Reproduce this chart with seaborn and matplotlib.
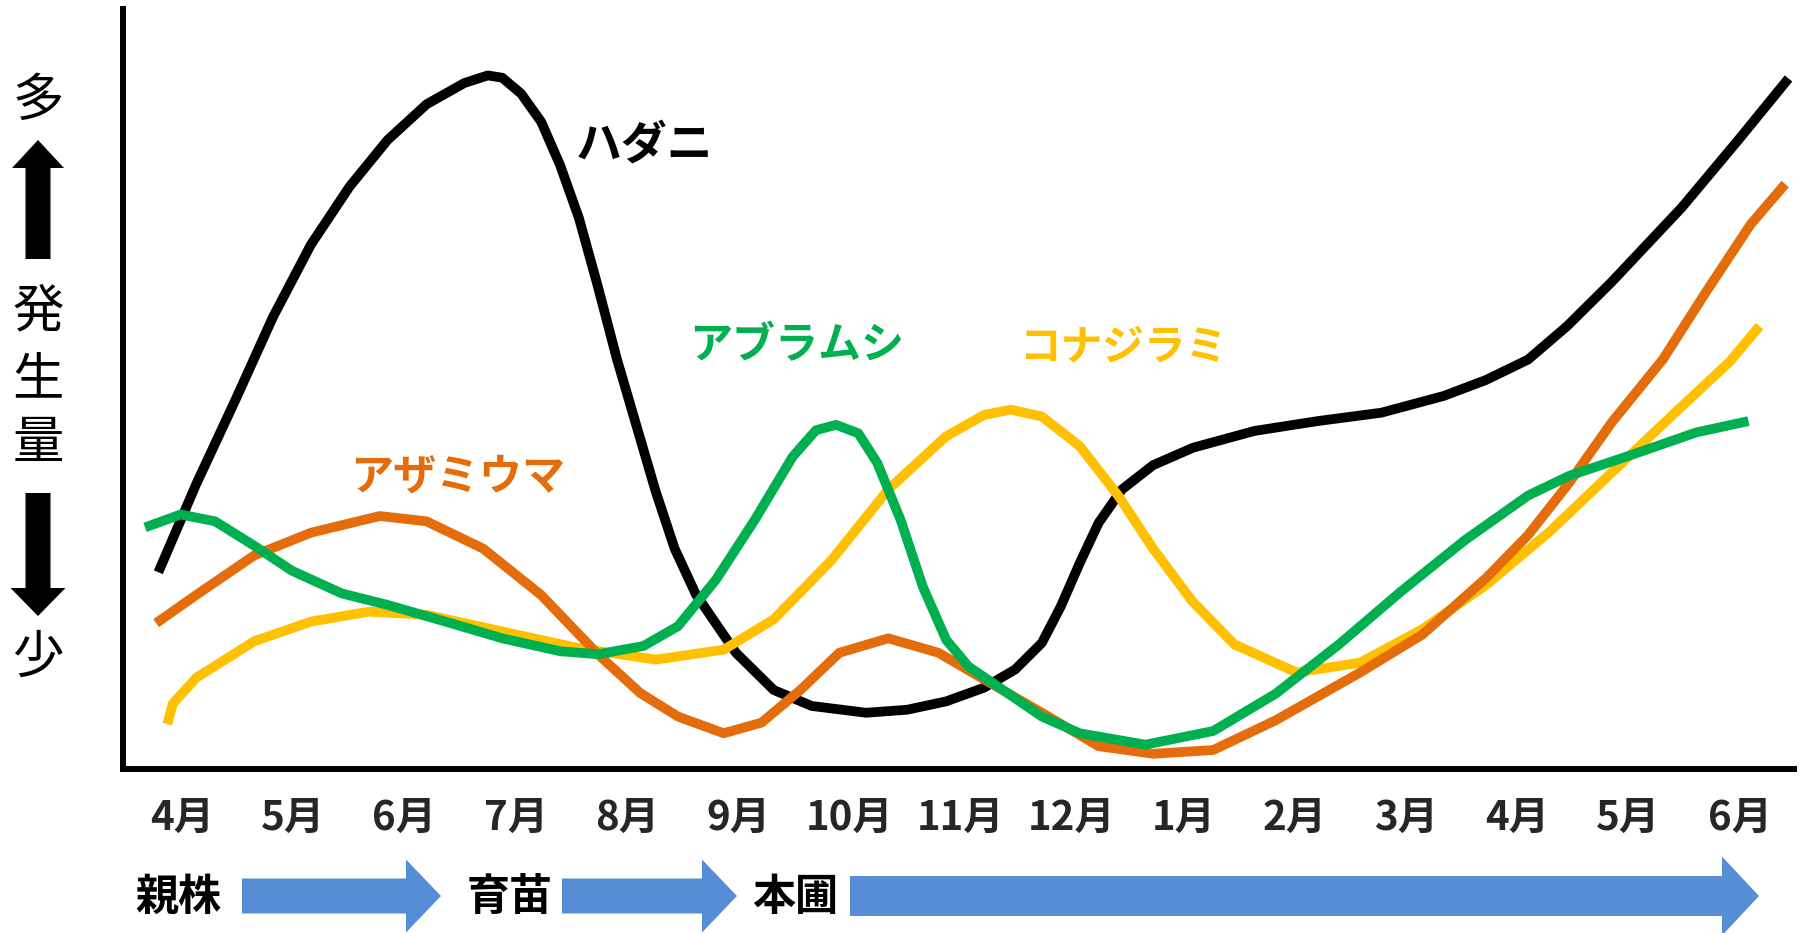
import numpy as np
import pandas as pd
import matplotlib
matplotlib.use("Agg")
import matplotlib.pyplot as plt
from matplotlib.patches import FancyArrow
import seaborn as sns

# month ticks (index 0 = 4月 of the first year)
months = ["4月", "5月", "6月", "7月", "8月", "9月", "10月", "11月", "12月",
          "1月", "2月", "3月", "4月", "5月", "6月"]

# ハダニ (spider mites)
hadani_x = [-0.21, 0.13, 0.48, 0.82, 1.16, 1.51, 1.85, 2.20, 2.54, 2.75, 2.88,
            3.05, 3.23, 3.40, 3.57, 3.74, 3.91, 4.09, 4.26, 4.43, 4.62, 4.98,
            5.32, 5.66, 6.15, 6.52, 6.87, 7.21, 7.49, 7.73, 7.90, 8.07, 8.24,
            8.45, 8.73, 9.09, 9.64, 10.21, 10.78, 11.34, 11.72, 12.10, 12.45,
            12.85, 13.48, 14.00, 14.44]
hadani_y = [25.9, 37.5, 48.5, 59.5, 69.0, 76.7, 82.8, 87.5, 90.3, 91.3, 91.0,
            88.9, 85.2, 79.5, 72.5, 63.5, 54.0, 45.0, 36.5, 29.0, 23.0, 15.3,
            10.4, 8.3, 7.4, 7.8, 8.9, 10.7, 13.1, 16.6, 21.4, 27.1, 32.4,
            36.8, 40.0, 42.3, 44.5, 45.8, 46.9, 49.1, 51.2, 53.9, 58.3,
            64.1, 73.9, 83.0, 90.9]

# アザミウマ (thrips)
azami_x = [-0.23, 0.13, 0.65, 1.16, 1.78, 2.20, 2.71, 3.23, 3.74, 4.12, 4.46,
           4.87, 5.21, 5.56, 5.91, 6.35, 6.80, 7.21, 7.73, 8.24, 8.73, 9.27,
           9.83, 10.59, 11.15, 11.72, 12.10, 12.47, 12.85, 13.31, 13.69,
           14.10, 14.41]
azami_y = [19.2, 22.9, 28.1, 31.1, 33.3, 32.6, 29.0, 22.9, 15.1, 10.0, 6.9,
           4.7, 6.1, 10.4, 15.3, 17.2, 15.3, 11.8, 7.4, 3.0, 2.0, 2.5,
           6.4, 12.7, 17.7, 25.1, 30.8, 37.7, 45.6, 53.9, 62.6,
           71.7, 77.0]

# コナジラミ (whiteflies)
konaji_x = [-0.13, -0.08, 0.13, 0.65, 1.16, 1.68, 2.20, 2.88, 3.57, 4.26, 4.87,
            5.32, 5.84, 6.35, 6.87, 7.21, 7.45, 7.73, 8.07, 8.42, 8.73, 9.08,
            9.46, 10.02, 10.59, 11.15, 11.72, 12.29, 12.85, 13.42, 13.91,
            14.18]
konaji_y = [5.9, 8.6, 12.0, 16.8, 19.4, 20.7, 20.3, 18.1, 15.9, 14.4, 15.7,
            19.7, 27.5, 36.8, 43.8, 46.6, 47.3, 46.4, 42.5, 35.9, 29.0, 22.1,
            16.4, 12.7, 14.0, 18.4, 24.2, 31.2, 39.0, 46.9, 53.6,
            58.3]

# アブラムシ (aphids)
abura_x = [-0.33, -0.01, 0.30, 0.65, 0.99, 1.44, 1.85, 2.37, 2.88, 3.40, 3.74,
           4.15, 4.46, 4.80, 5.15, 5.49, 5.70, 5.88, 6.08, 6.25, 6.46, 6.66,
           6.87, 7.07, 7.38, 7.73, 8.07, 8.66, 9.27, 9.83, 10.40, 10.96,
           11.53, 12.10, 12.47, 13.04, 13.61, 14.08]
abura_y = [31.8, 33.5, 32.6, 29.4, 26.1, 23.1, 21.6, 19.4, 17.2, 15.5, 15.1,
           16.2, 18.8, 24.9, 32.8, 41.1, 44.6, 45.3, 44.2, 40.3, 32.8, 24.0,
           17.0, 13.5, 10.4, 6.9, 4.7, 3.2, 5.0, 9.9, 16.4, 23.4,
           30.1, 36.0, 38.6, 41.4, 44.3, 45.8]

sns.set_style("white")
plt.rcParams['font.family'] = ['Noto Sans CJK JP', 'DejaVu Sans']

fig = plt.figure(figsize=(18.06, 9.33), dpi=100)
ax = fig.add_axes([0.0681, 0.1758, 0.9253, 0.8142])

# draw order: black, yellow, orange, green
series = [
    (hadani_x, hadani_y, "#000000"),
    (konaji_x, konaji_y, "#FFC000"),
    (azami_x, azami_y, "#E46C0A"),
    (abura_x, abura_y, "#00B050"),
]
for xs, ys, col in series:
    sns.lineplot(x=xs, y=ys, ax=ax, color=col, linewidth=7, sort=False,
                 estimator=None, solid_capstyle='butt', solid_joinstyle='round')

# series labels
ax.text(4.16, 82.0, "ハダニ", color="#000000", fontsize=33, fontweight='bold',
        ha='center', va='center')
ax.text(5.53, 55.8, "アブラムシ", color="#00B050", fontsize=31, fontweight='bold',
        ha='center', va='center')
ax.text(8.46, 55.5, "コナジラミ", color="#FFC000", fontsize=30, fontweight='bold',
        ha='center', va='center')
ax.text(2.48, 38.5, "アザミウマ", color="#E46C0A", fontsize=31, fontweight='bold',
        ha='center', va='center')

ax.set_xlim(-0.528, 14.49)
ax.set_ylim(0, 100)
ax.set_xticks(range(len(months)))
ax.set_xticklabels(months, fontsize=29, fontweight='bold')
ax.tick_params(axis='x', length=0, pad=21)
ax.set_yticks([])
ax.set_xlabel("")
ax.set_ylabel("")
for side in ['top', 'right']:
    ax.spines[side].set_visible(False)
for side in ['left', 'bottom']:
    ax.spines[side].set_color('black')
    ax.spines[side].set_linewidth(4.3)

# overlay in pixel coordinates for the side and bottom annotations
ov = fig.add_axes([0, 0, 1, 1])
ov.set_xlim(0, 1806)
ov.set_ylim(933, 0)
ov.axis('off')

# y-axis legend: 多 ↑ 発生量 ↓ 少
for ch, yy in [("多", 101), ("発", 312), ("生", 381), ("量", 443), ("少", 658)]:
    ov.text(38, yy, ch, fontsize=37, ha='center', va='center', color='black')
ov.add_patch(FancyArrow(38, 259, 0, 140 - 259, width=25, head_width=52,
                        head_length=28, length_includes_head=True,
                        color='black', lw=0))
ov.add_patch(FancyArrow(38, 493, 0, 616 - 493, width=25, head_width=55,
                        head_length=28, length_includes_head=True,
                        color='black', lw=0))

# bottom stage arrows
blue = "#558ED5"
for label, tx, x0, x1, bw, hw, hl in [
        ("親株", 178, 242, 441, 35, 73, 35),
        ("育苗", 510, 562, 737, 35, 73, 35),
        ("本圃", 795, 850, 1759, 40, 79, 37)]:
    ov.text(tx, 897, label, fontsize=31, fontweight='bold', ha='center',
            va='center', color='black')
    ov.add_patch(FancyArrow(x0, 896, x1 - x0, 0, width=bw, head_width=hw,
                            head_length=hl, length_includes_head=True,
                            color=blue, lw=0))

fig.savefig("out.png", dpi=100)
